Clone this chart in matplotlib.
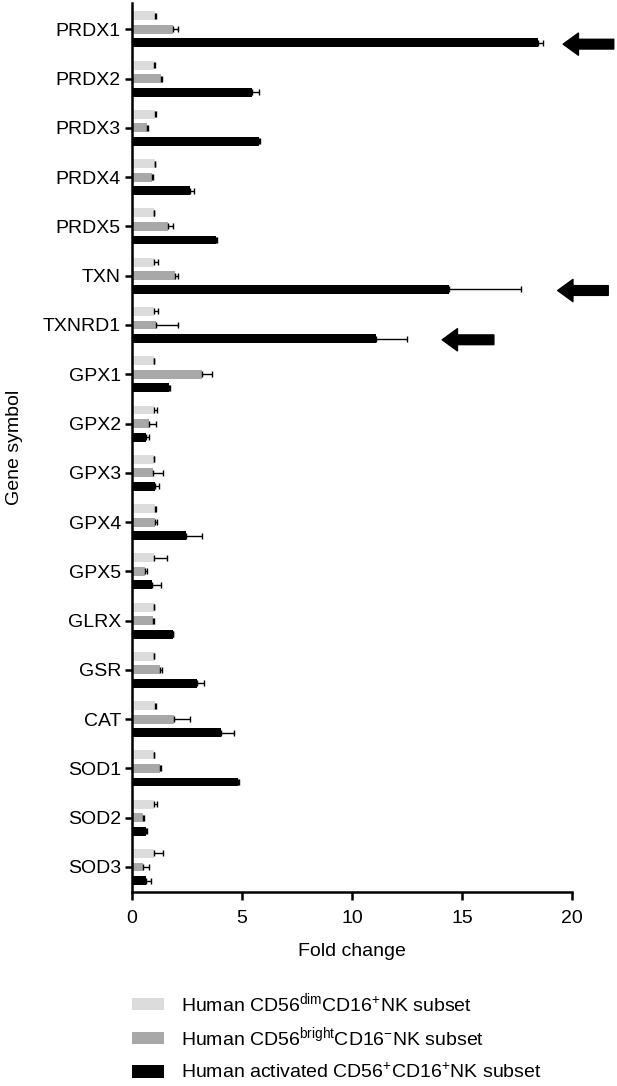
import matplotlib
matplotlib.use("Agg")
import matplotlib.pyplot as plt
import numpy as np
from matplotlib.patches import Patch

plt.rcParams['font.family'] = ['Liberation Sans', 'DejaVu Sans']
plt.rcParams['mathtext.fontset'] = 'custom'
plt.rcParams['mathtext.rm'] = 'Liberation Sans'
plt.rcParams['mathtext.it'] = 'Liberation Sans'

genes = ["PRDX1", "PRDX2", "PRDX3", "PRDX4", "PRDX5", "TXN", "TXNRD1",
         "GPX1", "GPX2", "GPX3", "GPX4", "GPX5", "GLRX", "GSR", "CAT",
         "SOD1", "SOD2", "SOD3"]

# CD56dim CD16+
dim_mean = [1.04, 1.0, 1.05, 1.04, 1.0, 1.0, 1.0, 1.0, 1.0, 1.0, 1.04, 1.0,
            1.0, 1.0, 1.04, 1.0, 1.0, 1.0]
dim_err = [0.03, 0.03, 0.03, 0.02, 0.0, 0.2, 0.18, 0.02, 0.14, 0.02, 0.06, 0.6,
           0.02, 0.02, 0.04, 0.02, 0.12, 0.41]

# CD56bright CD16-
bright_mean = [1.86, 1.3, 0.68, 0.91, 1.63, 1.95, 1.09, 3.18, 0.77, 0.95, 1.05,
               0.59, 0.95, 1.27, 1.93, 1.27, 0.5, 0.5]
bright_err = [0.21, 0.06, 0.05, 0.04, 0.23, 0.14, 0.98, 0.46, 0.32, 0.48, 0.07,
              0.11, 0.03, 0.09, 0.71, 0.05, 0.05, 0.27]

# activated CD56+ CD16+
act_mean = [18.45, 5.46, 5.77, 2.63, 3.82, 14.4, 11.07, 1.7, 0.64, 1.04, 2.45,
            0.89, 1.84, 2.96, 4.04, 4.82, 0.64, 0.64]
act_err = [0.23, 0.31, 0.03, 0.17, 0.05, 3.3, 1.45, 0.04, 0.11, 0.19, 0.75,
           0.43, 0.04, 0.29, 0.6, 0.06, 0.03, 0.2]

# arrows: (gene, tip x, tail x)
arrows = [("PRDX1", 19.6, 21.9), ("TXN", 19.35, 21.65), ("TXNRD1", 14.1, 16.45)]

labels = [r"Human CD56$^{\mathrm{dim}}$CD16$^{+}$NK subset",
          r"Human CD56$^{\mathrm{bright}}$CD16$^{-}$NK subset",
          r"Human activated CD56$^{+}$CD16$^{+}$NK subset"]
colors = ["#dcdcdc", "#a8a8a8", "#000000"]

fig = plt.figure(figsize=(6.17, 10.86), dpi=100)
ax = fig.add_axes([0.214, 0.179, 0.713, 0.818])

y = np.arange(len(genes))
h = 0.18
off = 0.275
series = [(dim_mean, dim_err), (bright_mean, bright_err), (act_mean, act_err)]
for k, (m, e) in enumerate(series):
    pos = y + (k - 1) * off
    ax.barh(pos, m, height=h, color=colors[k], edgecolor='none', zorder=2)
    ax.errorbar(m, pos, xerr=[np.zeros(len(e)), e], fmt='none', ecolor='black',
                elinewidth=1, capsize=2, capthick=1, zorder=3)

for g, tip, tail in arrows:
    i = genes.index(g)
    ax.annotate('', xy=(tip, i + 0.3), xytext=(tail, i + 0.3),
                arrowprops=dict(facecolor='black', edgecolor='black', width=7,
                                headwidth=16, headlength=11, shrink=0),
                annotation_clip=False)

ax.set_xlim(0, 20)
ax.set_ylim(17.5, -0.53)
ax.set_yticks(y)
ax.set_yticklabels(genes, fontsize=14)
ax.set_xticks([0, 5, 10, 15, 20])
ax.tick_params(axis='x', labelsize=14, length=6, width=1.8, pad=7)
ax.tick_params(axis='y', length=5, width=1.8, pad=3)
for s in ['top', 'right']:
    ax.spines[s].set_visible(False)
for s in ['left', 'bottom']:
    ax.spines[s].set_linewidth(1.8)
ax.set_xlabel("Fold change", fontsize=14, labelpad=12)
ax.set_ylabel("Gene symbol", fontsize=14, labelpad=14)

# one legend per row so the rows sit evenly
row_y = [0.0764, 0.0451, 0.0125]
for c, lab, ry in zip(colors, labels, row_y):
    leg = fig.legend([Patch(facecolor=c, edgecolor='none')], [lab],
                     loc='center left', bbox_to_anchor=(0.214, ry),
                     frameon=False, fontsize=14, handlelength=1.65,
                     handleheight=0.62, handletextpad=0.85,
                     borderaxespad=0, borderpad=0)

fig.savefig("out.png", dpi=100)
